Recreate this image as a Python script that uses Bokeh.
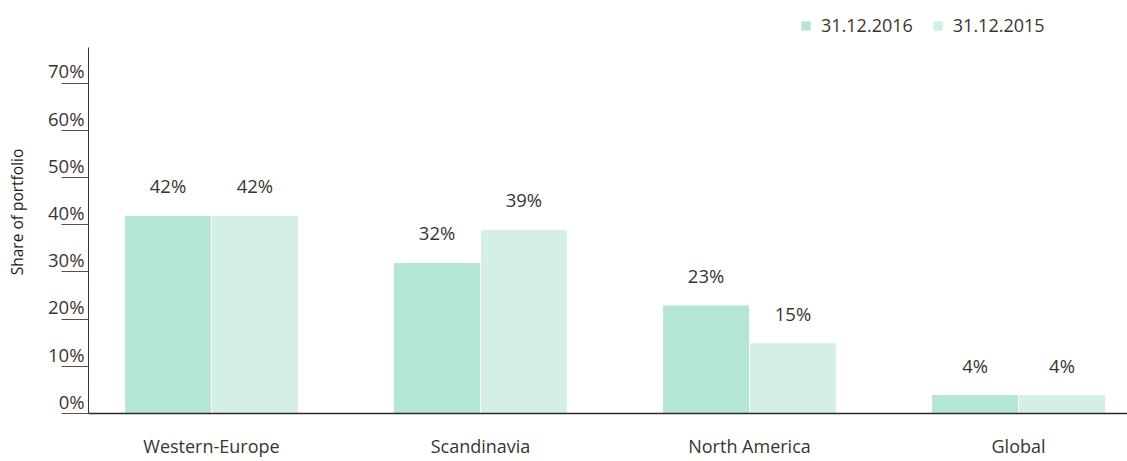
from bokeh.plotting import figure
from bokeh.models import (ColumnDataSource, Range1d, FixedTicker, Legend, LegendItem,
                          LinearAxis, CustomJSTickFormatter)
from bokeh.transform import dodge
from bokeh.core.properties import value
from bokeh.embed import file_html
from bokeh.resources import INLINE

categories = ["Western-Europe", "Scandinavia", "North America", "Global"]
share_2016 = [42, 32, 23, 4]
share_2015 = [42, 39, 15, 4]
series_names = ["31.12.2016", "31.12.2015"]
y_ticks = [0, 10, 20, 30, 40, 50, 60, 70]

FONT = "Open Sans"
TEXT = "#3b3430"
C16 = "#b4e6d4"
C15 = "#d4f0e4"
AXIS_TOP = 77.5   # where the vertical axis line stops
Y_TOP = 85.4      # frame extends higher to host the legend
LABEL_LIFT = 2.6  # lift tick labels above their tick line (in value units)

pos = list(range(len(categories)))
src = ColumnDataSource(dict(
    x=pos, s16=share_2016, s15=share_2015,
    l16=[f"{v}%" for v in share_2016], l15=[f"{v}%" for v in share_2015],
))

p = figure(width=1127, height=461, x_range=Range1d(-0.457, 3.405), y_range=Range1d(0, Y_TOP),
           output_backend="svg", toolbar_location=None,
           min_border_left=88, min_border_top=10, min_border_bottom=48, min_border_right=0)
p.outline_line_color = None
p.grid.grid_line_color = None
p.extra_y_ranges = {"lbl": Range1d(-LABEL_LIFT, Y_TOP - LABEL_LIFT)}

bw = 0.323
r16 = p.vbar(x=dodge("x", -bw / 2, range=p.x_range), top="s16", width=bw, source=src,
             fill_color=C16, line_color="white", line_width=1)
r15 = p.vbar(x=dodge("x", bw / 2, range=p.x_range), top="s15", width=bw, source=src,
             fill_color=C15, line_color="white", line_width=1)

p.text(x=dodge("x", -bw / 2, range=p.x_range), y="s16", text="l16", source=src,
       text_align="center", text_baseline="bottom", y_offset=-17,
       text_font=value(FONT), text_font_size="18.5px", text_color=TEXT)
p.text(x=dodge("x", bw / 2, range=p.x_range), y="s15", text="l15", source=src,
       text_align="center", text_baseline="bottom", y_offset=-17,
       text_font=value(FONT), text_font_size="18.5px", text_color=TEXT)

# x axis
xa = p.xaxis[0]
xa.ticker = FixedTicker(ticks=pos)
xa.major_label_overrides = {i: c for i, c in zip(pos, categories)}
xa.major_tick_line_color = None
xa.major_tick_out = 0
xa.major_tick_in = 0
xa.minor_tick_line_color = None
xa.axis_line_color = "#2e2824"
xa.axis_line_width = 1.5
xa.major_label_standoff = 20
xa.major_label_text_font = FONT
xa.major_label_text_font_size = "18px"
xa.major_label_text_color = TEXT

# y axis: line + long tick marks
ya = p.yaxis[0]
ya.ticker = FixedTicker(ticks=y_ticks)
ya.bounds = (0, AXIS_TOP)
ya.major_tick_out = 27
ya.major_tick_in = 0
ya.major_tick_line_color = "#5e4e42"
ya.minor_tick_line_color = None
ya.axis_line_color = "#3a322c"
ya.axis_line_width = 1
ya.major_label_text_color = None
ya.major_label_text_font_size = "1px"
ya.major_label_standoff = 0

# y labels sitting on top of the tick marks
yl = LinearAxis(y_range_name="lbl", ticker=FixedTicker(ticks=y_ticks),
                formatter=CustomJSTickFormatter(code="return tick + '%';"))
yl.axis_line_color = None
yl.major_tick_line_color = None
yl.minor_tick_line_color = None
yl.major_tick_out = 0
yl.major_tick_in = 0
yl.major_label_standoff = -23
yl.major_label_text_font = FONT
yl.major_label_text_font_size = "18.5px"
yl.major_label_text_color = TEXT
yl.axis_label = "Share of portfolio"
yl.axis_label_text_font = FONT
yl.axis_label_text_font_style = "normal"
yl.axis_label_text_font_size = "15.5px"
yl.axis_label_text_color = "#1e1a18"
yl.axis_label_standoff = 17
p.add_layout(yl, "left")

legend = Legend(items=[LegendItem(label=series_names[0], renderers=[r16]),
                       LegendItem(label=series_names[1], renderers=[r15])],
                orientation="horizontal", location=(711, 376),
                glyph_width=13, glyph_height=13, label_standoff=9, spacing=18,
                padding=0, margin=0, border_line_color=None, background_fill_alpha=0,
                label_text_font=FONT, label_text_font_size="18px", label_text_color=TEXT)
p.add_layout(legend)

open("out.html", "w").write(file_html(p, INLINE))
